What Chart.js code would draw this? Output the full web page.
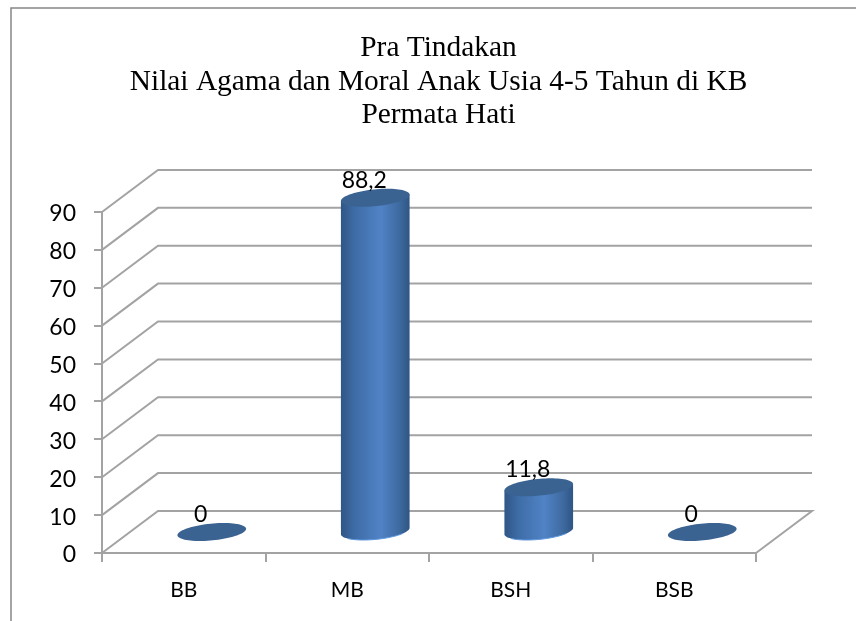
<!DOCTYPE html>
<html>
<head>
<meta charset="utf-8">
<style>html,body{margin:0;padding:0;background:#fff}canvas{display:block}</style>
<script src="https://cdn.jsdelivr.net/npm/chart.js@4"></script>
</head>
<body>
<canvas id="c" width="856" height="621"></canvas>
<script>
const categories = ['BB', 'MB', 'BSH', 'BSB'];
const values = [0, 88.2, 11.8, 0];
const titleLines = ['Pra Tindakan', 'Nilai Agama dan Moral Anak Usia 4-5 Tahun di KB', 'Permata Hati'];
const yMax = 90;
const yStep = 10;

const DEPTH_X = 56, DEPTH_Y = 42;
const GRID = '#a3a3a3';
const FONT = 'Lato, "Noto Sans", sans-serif';

const frame = {
  id: 'frame',
  beforeDraw(chart) {
    const ctx = chart.ctx;
    ctx.save();
    ctx.fillStyle = '#fff';
    ctx.fillRect(0, 0, chart.width, chart.height);
    ctx.strokeStyle = '#868686';
    ctx.lineWidth = 1.5;
    ctx.beginPath();
    ctx.moveTo(11, chart.height);
    ctx.lineTo(11, 8);
    ctx.lineTo(chart.width, 8);
    ctx.stroke();
    ctx.restore();
  }
};

const walls = {
  id: 'walls',
  beforeDatasetsDraw(chart) {
    const ctx = chart.ctx, y = chart.scales.y, a = chart.chartArea;
    ctx.save();
    ctx.strokeStyle = GRID;
    ctx.lineWidth = 2;
    ctx.lineJoin = 'miter';
    y.ticks.forEach(t => {
      const py = y.getPixelForValue(t.value);
      ctx.beginPath();
      ctx.moveTo(a.left, py);
      ctx.lineTo(a.left + DEPTH_X, py - DEPTH_Y);
      ctx.lineTo(a.right + DEPTH_X, py - DEPTH_Y);
      if (t.value === 0) ctx.lineTo(a.right, py);
      ctx.stroke();
    });
    ctx.restore();
  }
};

const cylinders = {
  id: 'cylinders',
  afterDatasetsDraw(chart) {
    const ctx = chart.ctx, meta = chart.getDatasetMeta(0);
    const h = 9, s = h * DEPTH_X / DEPTH_Y;
    meta.data.forEach((el, i) => {
      const W = el.width / 2, a = Math.sqrt(W * W - s * s);
      const cx = el.x + DEPTH_X / 2;
      const top = el.y - DEPTH_Y / 2, base = el.base - DEPTH_Y / 2;
      const t0 = Math.atan2(s, a);
      const pt = (t, cy) => [cx + a * Math.cos(t) + s * Math.sin(t), cy - h * Math.sin(t)];
      ctx.save();
      let p;
      if (values[i] > 0) {
        const g = ctx.createLinearGradient(cx - W, 0, cx + W, 0);
        g.addColorStop(0, '#2f5686');
        g.addColorStop(0.2, '#3e6ca6');
        g.addColorStop(0.58, '#5083c6');
        g.addColorStop(0.85, '#3e6aa0');
        g.addColorStop(1, '#2f5584');
        ctx.beginPath();
        p = pt(t0 + Math.PI, top);
        ctx.moveTo(p[0], p[1]);
        for (let k = 0; k <= 40; k++) {
          p = pt(t0 + Math.PI + Math.PI * k / 40, base);
          ctx.lineTo(p[0], p[1]);
        }
        p = pt(t0, top);
        ctx.lineTo(p[0], p[1]);
        ctx.closePath();
        ctx.fillStyle = g;
        ctx.fill();
        ctx.beginPath();
        for (let k = 8; k <= 32; k++) {
          p = pt(t0 + Math.PI + Math.PI * k / 40, base);
          k === 8 ? ctx.moveTo(p[0], p[1]) : ctx.lineTo(p[0], p[1]);
        }
        ctx.strokeStyle = '#5b97e0';
        ctx.lineWidth = 1;
        ctx.stroke();
      }
      ctx.beginPath();
      for (let k = 0; k <= 80; k++) {
        p = pt(Math.PI * 2 * k / 80, top);
        k === 0 ? ctx.moveTo(p[0], p[1]) : ctx.lineTo(p[0], p[1]);
      }
      ctx.closePath();
      ctx.fillStyle = '#3b6392';
      ctx.fill();
      ctx.fillStyle = '#000';
      ctx.font = '23px ' + FONT;
      ctx.textAlign = 'center';
      ctx.textBaseline = 'middle';
      ctx.fillText(String(values[i]).replace('.', ','), cx - 11, top - 17.5);
      ctx.restore();
    });
  }
};

new Chart(document.getElementById('c'), {
  type: 'bar',
  data: {
    labels: categories,
    datasets: [{
      data: values,
      backgroundColor: 'rgba(0,0,0,0)',
      borderWidth: 0,
      barPercentage: 0.42,
      categoryPercentage: 1,
      yAxisID: 'y'
    }]
  },
  plugins: [frame, walls, cylinders],
  options: {
    responsive: false,
    animation: false,
    events: [],
    layout: { autoPadding: false, padding: { left: 21, right: 0, top: 0, bottom: 0 } },
    plugins: {
      legend: { display: false },
      tooltip: { enabled: false },
      title: {
        display: true,
        text: titleLines,
        color: '#000',
        font: { family: '"Liberation Serif", serif', size: 29.4, weight: 'normal', lineHeight: 1.133 },
        padding: { top: 32, bottom: 80 }
      }
    },
    scales: {
      x: {
        afterFit(s) { s.height = 68; },
        grid: { offset: true, drawOnChartArea: false, drawTicks: true, tickLength: 9, color: GRID, lineWidth: 2 },
        border: { color: GRID, width: 2 },
        ticks: { color: '#000', font: { family: FONT, size: 21 }, padding: 16, maxRotation: 0, autoSkip: false }
      },
      y: {
        min: 0,
        max: yMax,
        afterFit(s) { s.width = 81; },
        grid: { drawOnChartArea: false, tickLength: 8, color: GRID, lineWidth: 2 },
        border: { color: GRID, width: 2 },
        ticks: { stepSize: yStep, color: '#000', font: { family: FONT, size: 23 }, padding: 18, labelOffset: 2 }
      },
      gutter: {
        position: 'right',
        display: true,
        afterFit(s) { s.width = 100; },
        grid: { display: false },
        border: { display: false },
        ticks: { display: false }
      }
    }
  }
});
</script>
</body>
</html>
